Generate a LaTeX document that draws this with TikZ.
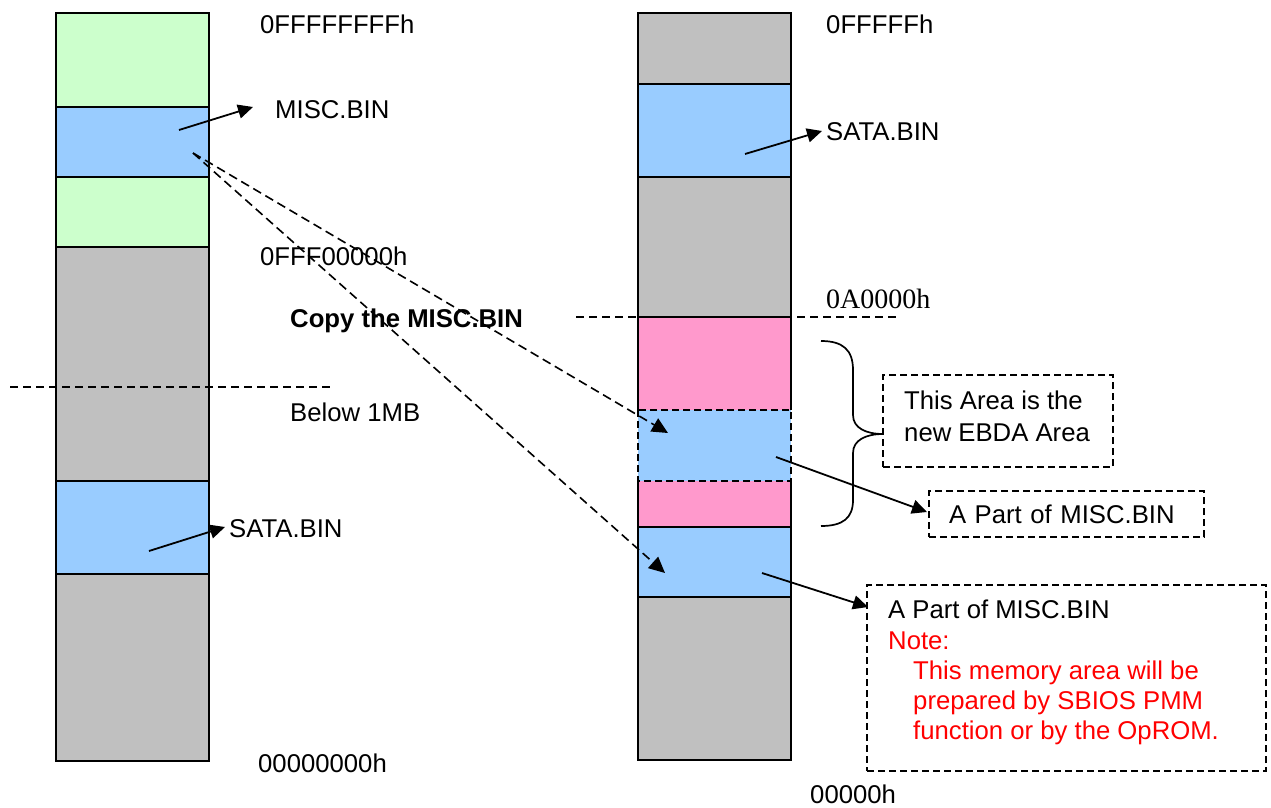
\documentclass[tikz,border=0pt]{standalone}
\usepackage{fontspec}
\setmainfont{Liberation Sans}
\newfontfamily\addrserif{Liberation Serif}
\usetikzlibrary{arrows.meta,calc}

\definecolor{romgreen}{HTML}{CCFFCC}
\definecolor{binblue}{HTML}{99CCFF}
\definecolor{memgray}{HTML}{C0C0C0}
\definecolor{ebdapink}{HTML}{FF99CC}

\begin{document}
\begin{tikzpicture}[x=1pt,y=-1pt,
  every node/.style={font=\fontsize{25.7}{30}\selectfont},
  seg/.style={line width=2pt, anchor=north west, minimum width=153pt,
              inner sep=0pt, outer sep=0pt},
  lbl/.style={anchor=base west, inner sep=0pt},
  arr/.style={line width=1.8pt, -{Triangle[length=15pt,width=14pt]}},
  darr/.style={line width=1.6pt, dash pattern=on 9pt off 5pt,
               -{Triangle[length=16pt,width=15pt]}},
  sep/.style={line width=1.6pt, dash pattern=on 8pt off 5pt},
  dbox/.style={draw, line width=1.6pt, dash pattern=on 7pt off 4pt,
               inner sep=0pt, outer sep=0pt, anchor=north west}]

\useasboundingbox (0,0) rectangle (1271,808);

% ---- 4 GB address space (left column)
\node[seg, draw, fill=romgreen, minimum height=94pt]  (L1) at (56,13)  {};
\node[seg, draw, fill=binblue,  minimum height=70pt]  (L2) at (56,107) {};
\node[seg, draw, fill=romgreen, minimum height=70pt]  (L3) at (56,177) {};
\node[seg, draw, fill=memgray,  minimum height=234pt] (L4) at (56,247) {};
\node[seg, draw, fill=binblue,  minimum height=93pt]  (L5) at (56,481) {};
\node[seg, draw, fill=memgray,  minimum height=187pt] (L6) at (56,574) {};

% ---- first megabyte (right column)
\node[seg, draw, fill=memgray,  minimum height=71pt]  (R1) at (638,13)  {};
\node[seg, draw, fill=binblue,  minimum height=93pt]  (R2) at (638,84)  {};
\node[seg, draw, fill=memgray,  minimum height=140pt] (R3) at (638,177) {};
\node[seg, fill=ebdapink, minimum height=93pt]        (R4) at (638,317) {};
\node[seg, fill=binblue,  minimum height=71pt]        (R5) at (638,410) {};
\node[seg, fill=ebdapink, minimum height=46pt]        (R6) at (638,481) {};
\node[seg, draw, fill=binblue,  minimum height=70pt]  (R7) at (638,527) {};
\node[seg, draw, fill=memgray,  minimum height=163pt] (R8) at (638,597) {};
\draw[line width=2pt] (R4.south west) -- (R4.north west) -- (R4.north east) -- (R4.south east);
\draw[line width=2pt] (R6.north west) -- (R6.south west) -- (R6.south east) -- (R6.north east);
\draw[line width=1.6pt, dash pattern=on 7pt off 4pt] (R5.north west) rectangle (R5.south east);

% ---- boundary lines
\draw[sep] (10,387) -- (333,387);
\draw[sep] (576,317) -- (897,317);

% ---- address and block labels
\node[lbl] (ltop)  at (260,34)  {0FFFFFFFFh};
\node[lbl] (lmisc) at (275,118) {MISC.BIN};
\node[lbl] (lmid)  at (260,265) {0FFF00000h};
\node[lbl, font=\fontsize{25.7}{30}\selectfont\bfseries] (copy) at (290,327) {Copy the MISC.BIN};
\node[lbl] (below) at (290,421) {Below 1MB};
\node[lbl] (lsata) at (229,537) {SATA.BIN};
\node[lbl] (lbot)  at (258,772) {00000000h};

\node[lbl] (rtop)  at (826,34)  {0FFFFFh};
\node[lbl] (rsata) at (826,140) {SATA.BIN};
\node[lbl, font=\fontsize{28}{30}\selectfont\addrserif] (rmid) at (826,308) {0A0000h};
\node[lbl] (rbot)  at (810,803) {00000h};

% ---- callout boxes
\node[dbox, minimum width=230pt, minimum height=92pt] (ebda) at (883,375) {};
\node[anchor=base west, inner sep=0pt, align=left,
      font=\fontsize{25.7}{32}\selectfont] (ebdatext) at (904,441)
  {This Area is the\\new EBDA Area};
\node[dbox, minimum width=275pt, minimum height=46pt, align=left,
      text width=235pt, inner xsep=20pt]
  (part) at (929,491) {A Part of MISC.BIN};
\node[dbox, minimum width=399pt, minimum height=186pt] (notebox) at (867,585) {};
\node[anchor=north west, inner sep=0pt, align=left,
      font=\fontsize{25.7}{30.2}\selectfont] (notetext) at (888,600)
  {A Part of MISC.BIN\\
   \textcolor{red}{Note:}\\
   \hspace*{25pt}\textcolor{red}{This memory area will be}\\
   \hspace*{25pt}\textcolor{red}{prepared by SBIOS PMM}\\
   \hspace*{25pt}\textcolor{red}{function or by the OpROM.}};

% ---- brace grouping the EBDA area
\draw[line width=1.7pt] (821,341) .. controls (843,341) and (853,350) .. (853,370)
  -- (853,415) .. controls (853,428) and (866,434) .. (883,434)
  .. controls (866,434) and (853,440) .. (853,453)
  -- (853,500) .. controls (853,518) and (843,526) .. (821,526);

% ---- pointers from blocks to their names
\draw[arr] ($(L2.north west)+(123,23)$) -- ($(lmisc.base west)+(-22,-11)$);
\draw[arr] ($(L5.north west)+(93,70)$)  -- ($(lsata.base west)+(-4,-10)$);
\draw[arr] ($(R2.north west)+(107,70)$) -- ($(rsata.base west)+(-4,-9)$);
\draw[arr] ($(R5.north west)+(138,47)$) -- ($(part.west)+(-2,-2)$);
\draw[arr] ($(R7.north west)+(124,46)$) -- ($(notebox.north west)+(1,22)$);

% ---- copy of MISC.BIN into low memory
\coordinate (src) at ($(L2.north west)+(137,46)$);
\draw[darr] (src) -- ($(R5.north west)+(30,23)$);
\draw[darr] (src) -- ($(R7.north west)+(27,46)$);

\end{tikzpicture}
\end{document}
